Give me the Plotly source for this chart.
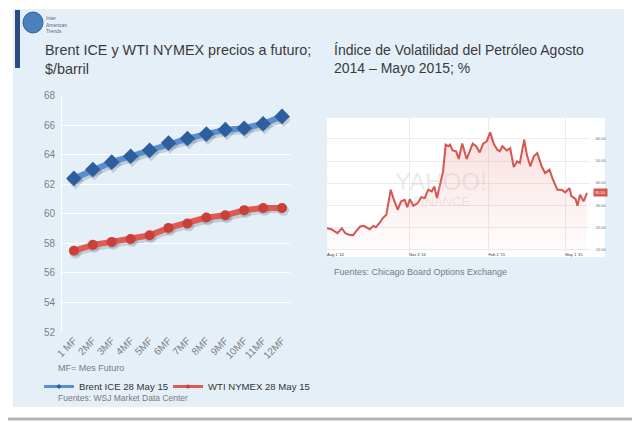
import plotly.graph_objects as go

# ---------------- data ----------------
months = ["1 MF", "2MF", "3MF", "4MF", "5MF", "6MF", "7MF", "8MF", "9MF", "10MF", "11MF", "12MF"]
brent = [62.4, 63.0, 63.5, 63.9, 64.3, 64.8, 65.1, 65.4, 65.7, 65.8, 66.1, 66.6]
wti = [57.5, 57.9, 58.1, 58.3, 58.55, 59.05, 59.35, 59.75, 59.9, 60.25, 60.4, 60.4]
series_names = ["Brent ICE 28 May 15", "WTI NYMEX 28 May 15"]

ovx_dates = [
    "2014-08-01", "2014-08-06", "2014-08-09", "2014-08-13", "2014-08-18", "2014-08-22",
    "2014-08-27", "2014-08-31", "2014-09-03", "2014-09-08", "2014-09-12", "2014-09-16",
    "2014-09-19", "2014-09-23", "2014-09-26", "2014-09-30", "2014-10-04", "2014-10-08",
    "2014-10-13", "2014-10-16", "2014-10-21", "2014-10-25", "2014-10-29", "2014-11-01",
    "2014-11-04", "2014-11-08", "2014-11-13", "2014-11-17", "2014-11-21", "2014-11-25",
    "2014-11-29", "2014-12-02", "2014-12-05", "2014-12-09", "2014-12-12", "2014-12-15",
    "2014-12-18", "2014-12-20", "2014-12-23", "2014-12-27", "2014-12-30", "2015-01-03",
    "2015-01-08", "2015-01-12", "2015-01-15", "2015-01-19", "2015-01-23", "2015-01-27",
    "2015-01-31", "2015-02-04", "2015-02-08", "2015-02-12", "2015-02-15", "2015-02-18",
    "2015-02-23", "2015-02-27", "2015-03-03", "2015-03-07", "2015-03-10", "2015-03-15",
    "2015-03-18", "2015-03-22", "2015-03-26", "2015-03-30", "2015-04-04", "2015-04-08",
    "2015-04-13", "2015-04-17", "2015-04-22", "2015-04-27", "2015-05-01", "2015-05-06",
    "2015-05-08", "2015-05-13", "2015-05-15", "2015-05-18", "2015-05-22", "2015-05-26",
]
ovx = [
    19.5, 19.1, 18.3, 17.3, 19.5, 17.3,
    16.5, 16.4, 18.0, 20.3, 20.6, 19.7,
    19.1, 20.6, 20.0, 21.8, 24.1, 25.6,
    37.0, 33.2, 27.9, 31.7, 32.4, 29.1,
    32.7, 29.7, 30.9, 33.6, 33.2, 37.0,
    36.2, 38.5, 33.2, 40.0, 45.3, 57.4,
    56.7, 57.4, 54.8, 54.4, 50.9, 57.9,
    50.9, 54.8, 57.9, 56.7, 53.9, 57.9,
    58.9, 63.0, 57.9, 55.2, 54.4, 56.7,
    54.8, 55.8, 47.3, 49.8, 49.1, 59.7,
    52.9, 47.6, 52.1, 53.6, 47.6, 44.5,
    46.1, 41.5, 37.0, 37.0, 35.8, 37.7,
    34.2, 32.7, 29.7, 34.7, 31.7, 35.5,
]
ovx_tickvals = ["2014-08-01", "2014-11-03", "2015-02-02", "2015-05-01"]
ovx_ticktext = ["Aug 1 '14", "Nov 3 '14", "Feb 2 '15", "May 1 '15"]
left_yticks = [52, 54, 56, 58, 60, 62, 64, 66, 68]
right_yticks = [10, 20, 30, 40, 50, 60]

# ---------------- layout helpers ----------------
# the page is shown with the browser's default 8px body margin, so positions
# (measured in the screenshot) are converted with that offset
W, H, OFF = 640, 422, 8
def px(x):
    return (x - OFF) / W
def py(y):
    return 1 - (y - OFF) / H

FONT = "Liberation Sans, Arial, Helvetica, sans-serif"
BG = "#e5eff8"
BLUE_LINE, BLUE_MARK = "#5b8fd1", "#2d5e9e"
RED_LINE, RED_MARK = "#dd5c52", "#c9403a"
SHADOW = "rgba(40,50,70,0.18)"
XR = [-0.63, 11.42]
YR = [52, 68]

fig = go.Figure()

# soft drop shadows (base axes, slightly shifted ranges)
for vals, sym, size in [(brent, "diamond", 12), (wti, "circle", 10)]:
    fig.add_trace(go.Scatter(
        x=months, y=vals, mode="lines+markers", showlegend=False, hoverinfo="skip",
        line=dict(color=SHADOW, width=7), marker=dict(symbol=sym, size=size + 1, color=SHADOW),
        xaxis="x", yaxis="y",
    ))

# main lines
fig.add_trace(go.Scatter(
    x=months, y=brent, mode="lines+markers", name=series_names[0], showlegend=False,
    line=dict(color=BLUE_LINE, width=6),
    marker=dict(symbol="diamond", size=12, color=BLUE_MARK),
    xaxis="x4", yaxis="y4",
))
fig.add_trace(go.Scatter(
    x=months, y=wti, mode="lines+markers", name=series_names[1], showlegend=False,
    line=dict(color=RED_LINE, width=6),
    marker=dict(symbol="circle", size=10, color=RED_MARK),
    xaxis="x4", yaxis="y4",
))
# legend entries (thin style as in the original legend)
fig.add_trace(go.Scatter(
    x=[None], y=[None], mode="lines+markers", name=series_names[0], legend="legend",
    line=dict(color=BLUE_LINE, width=3), marker=dict(symbol="diamond", size=4, color=BLUE_MARK),
    xaxis="x4", yaxis="y4",
))
fig.add_trace(go.Scatter(
    x=[None], y=[None], mode="lines+markers", name=series_names[1], legend="legend2",
    line=dict(color=RED_LINE, width=3), marker=dict(symbol="circle", size=4, color=RED_MARK),
    xaxis="x4", yaxis="y4",
))
fig.add_trace(go.Scatter(
    x=ovx_dates, y=ovx, mode="lines", showlegend=False,
    line=dict(color="#d65550", width=2),
    fill="tozeroy",
    fillgradient=dict(type="vertical", start=9, stop=63,
                      colorscale=[[0, "rgba(230,110,110,0.02)"], [1, "rgba(230,110,110,0.22)"]]),
    xaxis="x3", yaxis="y3",
))

shapes = [
    dict(type="rect", xref="paper", yref="paper", x0=px(13), x1=px(624), y0=py(407), y1=py(9),
         fillcolor=BG, line=dict(width=0), layer="below"),
    dict(type="rect", xref="paper", yref="paper", x0=px(15), x1=px(20), y0=py(68), y1=py(10),
         fillcolor="#2b4c7e", line=dict(width=0), layer="below"),
    dict(type="circle", xref="paper", yref="paper", x0=px(23), x1=px(43), y0=py(33), y1=py(12),
         fillcolor="#4a80bb", line=dict(color="#2d5e9e", width=1), layer="below"),
    dict(type="rect", xref="paper", yref="paper", x0=px(327), x1=px(605), y0=py(257), y1=py(118),
         fillcolor="white", line=dict(width=0), layer="below"),
    dict(type="line", xref="paper", yref="paper", x0=0, x1=1, y0=py(419), y1=py(419),
         line=dict(color="#b4b4b4", width=3)),
]

annotations = [
    dict(text="Brent ICE y WTI NYMEX precios a futuro;<br>$/barril", x=px(43), y=py(40),
         xref="paper", yref="paper", xanchor="left", yanchor="top", align="left", showarrow=False,
         font=dict(family=FONT, size=14.4, color="#3a3a3a")),
    dict(text="Índice de Volatilidad del Petróleo Agosto<br>2014 – Mayo 2015; %", x=px(332), y=py(40),
         xref="paper", yref="paper", xanchor="left", yanchor="top", align="left", showarrow=False,
         font=dict(family=FONT, size=14, color="#3a3a3a")),
    dict(text="Inter<br>American<br>Trends", x=px(44), y=py(13), xref="paper", yref="paper",
         xanchor="left", yanchor="top", align="left", showarrow=False,
         font=dict(family=FONT, size=5, color="#556677")),
    dict(text="MF= Mes Futuro", x=px(56), y=py(368), xref="paper", yref="paper",
         xanchor="left", yanchor="middle", showarrow=False,
         font=dict(family=FONT, size=9, color="#7a7a7a")),
    dict(text="Fuentes: WSJ Market Data Center", x=px(56), y=py(398), xref="paper", yref="paper",
         xanchor="left", yanchor="middle", showarrow=False,
         font=dict(family=FONT, size=8.5, color="#7a7a7a")),
    dict(text="Fuentes: Chicago Board Options Exchange", x=px(332), y=py(272), xref="paper", yref="paper",
         xanchor="left", yanchor="middle", showarrow=False,
         font=dict(family=FONT, size=9, color="#7a7a7a")),
    dict(text="YAHOO!", x=px(441), y=py(181), xref="paper", yref="paper",
         xanchor="center", yanchor="middle", showarrow=False,
         font=dict(family=FONT, size=24, color="rgba(185,185,185,0.28)")),
    dict(text="FINANCE", x=px(441), y=py(201), xref="paper", yref="paper",
         xanchor="center", yanchor="middle", showarrow=False,
         font=dict(family=FONT, size=13, color="rgba(185,185,185,0.28)")),
    dict(text=f"{ovx[-1]:.2f}", x=1, xref="x3 domain", y=ovx[-1], yref="y3",
         xanchor="left", yanchor="middle", xshift=3, showarrow=False,
         bgcolor="#d9534f", borderpad=1,
         font=dict(family=FONT, size=4, color="white")),
]

legend_style = dict(orientation="h", yanchor="top", xanchor="left",
                    font=dict(family=FONT, size=9.6, color="#333333"),
                    bgcolor="rgba(0,0,0,0)", itemwidth=30)

fig.update_layout(
    width=W, height=H,
    margin=dict(l=0, r=0, t=0, b=0, pad=0, autoexpand=False),
    paper_bgcolor="white",
    plot_bgcolor="rgba(0,0,0,0)",
    font=dict(family=FONT),
    shapes=shapes,
    annotations=annotations,
    showlegend=True,
    legend=dict(x=px(39), y=py(372), **legend_style),
    legend2=dict(x=px(168), y=py(372), **legend_style),
    # base axes: carry the shadow, slightly shifted, hidden
    xaxis=dict(domain=[px(62), px(290)], anchor="y", type="category", visible=False,
               range=[XR[0] - 0.08, XR[1] - 0.08]),
    yaxis=dict(domain=[py(332), py(95.7)], anchor="x", visible=False,
               range=[YR[0] + 0.16, YR[1] + 0.16]),
    # visible axes of the left chart
    xaxis4=dict(overlaying="x", anchor="y4", type="category", automargin=False,
                range=XR, tickangle=-45, showgrid=False, zeroline=False,
                tickfont=dict(family=FONT, size=10, color="#808080"), ticks=""),
    yaxis4=dict(overlaying="y", anchor="x4", side="left", range=YR, tickvals=left_yticks,
                automargin=False, gridcolor="white", gridwidth=1.2, zeroline=False,
                ticks="outside", ticklen=4, tickcolor="rgba(0,0,0,0)",
                tickfont=dict(family=FONT, size=10, color="#808080"),
                showline=True, linecolor="white", linewidth=1),
    yaxis2=dict(overlaying="y", side="right", anchor="x4", range=YR, tickvals=left_yticks,
                automargin=False, showgrid=False, zeroline=False,
                ticks="outside", ticklen=7, tickcolor="rgba(0,0,0,0)",
                tickfont=dict(family=FONT, size=10, color="#808080"),
                showline=True, linecolor="white", linewidth=1),
    # right chart
    xaxis3=dict(domain=[px(327), px(590)], anchor="y3", type="date", automargin=False,
                range=["2014-08-01", "2015-05-29 10:00"],
                tickvals=ovx_tickvals, ticktext=ovx_ticktext, ticklabelposition="outside right",
                showgrid=True, gridcolor="#ececec", gridwidth=1, zeroline=False, ticks="",
                tickfont=dict(family=FONT, size=4, color="#333333")),
    yaxis3=dict(domain=[py(251), py(118)], anchor="x3", side="right", range=[9.2, 69.5],
                automargin=False, tickvals=right_yticks, tickformat=".2f",
                showgrid=True, gridcolor="#ececec", gridwidth=1, zeroline=False,
                ticks="outside", ticklen=4, tickcolor="rgba(0,0,0,0)",
                tickfont=dict(family=FONT, size=4, color="#666666")),
)

fig.write_html("out.html")
